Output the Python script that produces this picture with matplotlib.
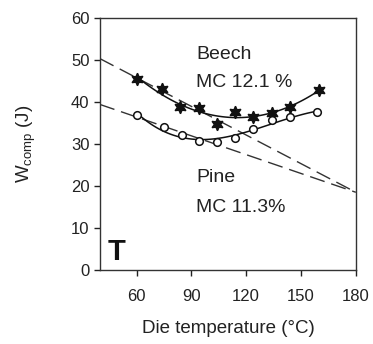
import numpy as np
import matplotlib
matplotlib.use("Agg")
import matplotlib.pyplot as plt

plt.rcParams['font.family'] = ['Liberation Sans', 'DejaVu Sans']

beech_T = [60, 74, 84, 94, 104, 114, 124, 134, 144, 160]
beech_W = [45.4, 43.0, 38.9, 38.6, 34.7, 37.5, 36.3, 37.3, 38.9, 42.9]
pine_T = [60, 75, 85, 94, 104, 114, 124, 134, 144, 159]
pine_W = [36.9, 34.0, 32.1, 30.7, 30.4, 31.4, 33.6, 35.7, 36.3, 37.5]
beech_dash_x = [40, 180]
beech_dash_y = [50.3, 18.5]
pine_dash_x = [40, 180]
pine_dash_y = [39.4, 18.5]

fig = plt.figure(figsize=(3.73, 3.44), dpi=100)
ax = fig.add_axes([0.268, 0.215, 0.686, 0.733])

# dashed extrapolation lines
ax.plot(beech_dash_x, beech_dash_y, color='#333333', lw=1.0, dashes=(11, 5))
ax.plot(pine_dash_x, pine_dash_y, color='#333333', lw=1.0, dashes=(11, 5))

# trend curves
for T, W, deg in [(beech_T, beech_W, 2), (pine_T, pine_W, 3)]:
    c = np.polyfit(T, W, deg)
    xs = np.linspace(min(T), max(T), 100)
    ax.plot(xs, np.polyval(c, xs), color='#111111', lw=1.1)

ax.plot(beech_T, beech_W, linestyle='none', marker=(6, 1, 0), markersize=9,
        markerfacecolor='#111111', markeredgecolor='#111111')
ax.plot(pine_T, pine_W, linestyle='none', marker='o', markersize=5.5,
        markerfacecolor='white', markeredgecolor='#111111', markeredgewidth=1.1)

ax.set_xlim(40, 180)
ax.set_ylim(0, 60)
ax.set_xticks([60, 90, 120, 150, 180])
ax.set_yticks([0, 10, 20, 30, 40, 50, 60])
ax.tick_params(labelsize=12, direction='out', length=4, width=1, colors='#222222')
ax.tick_params(axis='x', pad=10)
for s in ax.spines.values():
    s.set_color('#333333')
    s.set_linewidth(1)

ax.set_xlabel('Die temperature (°C)', fontsize=13.5, labelpad=11, color='#222222')
ax.set_ylabel(r'W$_{\mathregular{comp}}$ (J)', fontsize=13.5, labelpad=24, color='#222222')

ax.text(92.5, 50.3, 'Beech', fontsize=14, color='#222222')
ax.text(92.5, 43.6, 'MC 12.1 %', fontsize=14, color='#222222')
ax.text(92.5, 21.0, 'Pine', fontsize=14, color='#222222')
ax.text(92.5, 13.8, 'MC 11.3%', fontsize=14, color='#222222')
ax.text(44, 2.5, 'T', fontsize=21, fontweight='bold', color='#111111')

fig.savefig('out.png', dpi=100)
